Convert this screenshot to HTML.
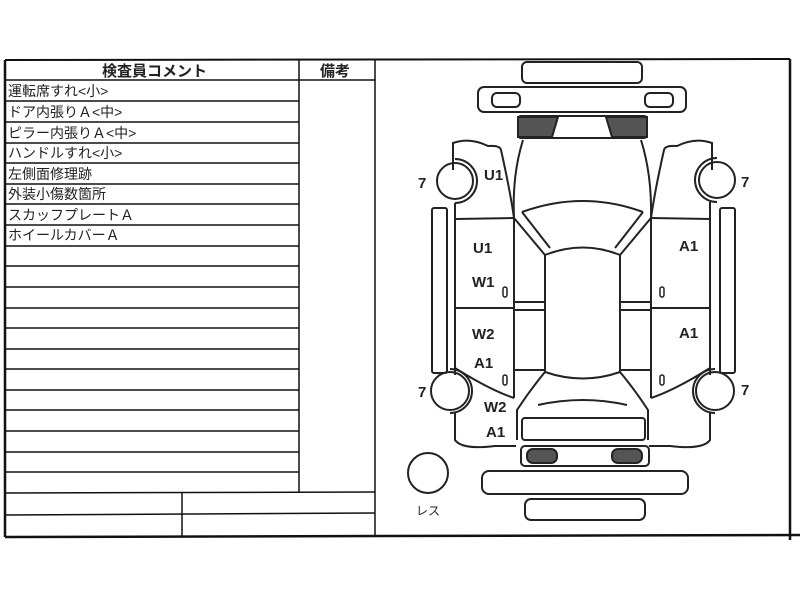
<!DOCTYPE html>
<html><head><meta charset="utf-8"><style>
html,body{margin:0;padding:0;background:#fff;width:800px;height:600px;overflow:hidden}
</style></head><body>
<svg width="800" height="600" viewBox="0 0 800 600" xmlns="http://www.w3.org/2000/svg" style="font-family:'Liberation Sans','Noto Sans CJK JP',sans-serif">
<g stroke="#111" fill="none">
<line x1="5" y1="60" x2="790" y2="59" stroke-width="2"/>
<line x1="5" y1="60" x2="5" y2="537" stroke-width="2.5"/>
<line x1="5" y1="537" x2="800" y2="535" stroke-width="2.5"/>
<line x1="790" y1="59" x2="790" y2="540" stroke-width="2.5"/>
<line x1="375" y1="60" x2="375" y2="536" stroke-width="1.5"/>
<line x1="299" y1="60" x2="299" y2="493" stroke-width="1.5"/>
<line x1="5" y1="80" x2="375" y2="80" stroke-width="1.5"/>
<g stroke-width="1.5">
<line x1="5" y1="101" x2="299" y2="101"/>
<line x1="5" y1="122" x2="299" y2="122"/>
<line x1="5" y1="143" x2="299" y2="143"/>
<line x1="5" y1="163" x2="299" y2="163"/>
<line x1="5" y1="184" x2="299" y2="184"/>
<line x1="5" y1="204" x2="299" y2="204"/>
<line x1="5" y1="225" x2="299" y2="225"/>
<line x1="5" y1="246" x2="299" y2="246"/>
<line x1="5" y1="266" x2="299" y2="266"/>
<line x1="5" y1="287" x2="299" y2="287"/>
<line x1="5" y1="308" x2="299" y2="308"/>
<line x1="5" y1="328" x2="299" y2="328"/>
<line x1="5" y1="349" x2="299" y2="349"/>
<line x1="5" y1="369" x2="299" y2="369"/>
<line x1="5" y1="390" x2="299" y2="390"/>
<line x1="5" y1="410" x2="299" y2="410"/>
<line x1="5" y1="431" x2="299" y2="431"/>
<line x1="5" y1="452" x2="299" y2="452"/>
<line x1="5" y1="472" x2="299" y2="472"/>
<line x1="5" y1="493" x2="375" y2="492"/>
<line x1="5" y1="515" x2="375" y2="513"/>
<line x1="182" y1="493" x2="182" y2="536"/>
</g>
</g>
<g font-size="14" fill="#222">
<text x="102" y="76" font-weight="bold" font-size="15">検査員コメント</text>
<text x="320" y="76" font-weight="bold" font-size="15">備考</text>
<text x="8" y="96">運転席すれ&lt;小&gt;</text>
<text x="8" y="117">ドア内張りＡ&lt;中&gt;</text>
<text x="8" y="138">ピラー内張りＡ&lt;中&gt;</text>
<text x="8" y="158">ハンドルすれ&lt;小&gt;</text>
<text x="8" y="179">左側面修理跡</text>
<text x="8" y="199">外装小傷数箇所</text>
<text x="8" y="220">スカッフプレートＡ</text>
<text x="8" y="240">ホイールカバーＡ</text>
</g>
<g stroke="#222" stroke-width="2" fill="none">
<rect x="522" y="62" width="120" height="21" rx="5"/>
<rect x="478" y="87" width="208" height="25" rx="6"/>
<rect x="492" y="93" width="28" height="14" rx="5"/>
<rect x="645" y="93" width="28" height="14" rx="5"/>
<rect x="518" y="116" width="129" height="22" rx="3"/>
<path d="M518 117 L558 117 L552 137 L518 137 Z" fill="#555"/>
<path d="M606 117 L647 117 L647 137 L612 137 Z" fill="#555"/>
<path d="M523 140 Q512 175 514 218"/>
<path d="M641 140 Q652 175 651 218"/>
<path d="M453 170 L453 143 Q470 137 488 146 Q500 145 501 150 Q510 190 514 218"/>
<path d="M712 170 L712 143 Q695 137 677 146 Q665 145 664 150 Q655 190 651 218"/>
<circle cx="455" cy="181" r="18"/>
<path d="M455 159 A22 22 0 0 1 455 203"/>
<circle cx="717" cy="180" r="18"/>
<path d="M717 158 A22 22 0 0 0 717 202"/>
<line x1="455" y1="203" x2="455" y2="375"/>
<line x1="710" y1="202" x2="710" y2="375"/>
<rect x="432" y="208" width="15" height="165" rx="2"/>
<rect x="720" y="208" width="15" height="165" rx="2"/>
<line x1="455" y1="219" x2="514" y2="218"/>
<line x1="651" y1="218" x2="710" y2="219"/>
<line x1="514" y1="218" x2="514" y2="398"/>
<line x1="651" y1="218" x2="651" y2="398"/>
<line x1="455" y1="308" x2="514" y2="308"/>
<line x1="651" y1="308" x2="710" y2="308"/>
<path d="M514 218 L545 255 M522 212 L550 248"/>
<path d="M651 218 L620 255 M643 212 L615 248"/>
<path d="M522 212 Q583 190 643 212"/>
<path d="M545 255 Q583 240 620 255"/>
<line x1="545" y1="255" x2="545" y2="372"/>
<line x1="620" y1="255" x2="620" y2="372"/>
<path d="M514 302 L545 302 M514 310 L545 310 M620 302 L651 302 M620 310 L651 310"/>
<path d="M514 370 L545 370 M620 370 L651 370"/>
<path d="M545 372 Q583 385 620 372"/>
<path d="M455 368 Q490 390 514 398"/>
<path d="M710 368 Q675 390 651 398"/>
<path d="M545 372 Q530 390 517 410 L517 440"/>
<path d="M620 372 Q635 390 648 410 L648 440"/>
<path d="M538 405 Q583 395 627 405"/>
<rect x="522" y="418" width="123" height="22" rx="3"/>
<circle cx="450" cy="391" r="19"/>
<path d="M450 369 A22 22 0 0 1 450 413"/>
<circle cx="715" cy="391" r="19"/>
<path d="M715 369 A22 22 0 0 0 715 413"/>
<path d="M455 413 Q455 430 455 440 Q462 450 495 446 L516 446"/>
<path d="M710 413 Q710 430 710 440 Q703 450 670 446 L649 446"/>
<rect x="521" y="446" width="128" height="20" rx="4"/>
<rect x="527" y="449" width="30" height="14" rx="6" fill="#555"/>
<rect x="612" y="449" width="30" height="14" rx="6" fill="#555"/>
<rect x="482" y="471" width="206" height="23" rx="7"/>
<rect x="525" y="499" width="120" height="21" rx="6"/>
<circle cx="428" cy="473" r="20"/>
</g>
<g font-size="15" font-weight="bold" fill="#222">
<text x="418" y="188">7</text>
<text x="741" y="187">7</text>
<text x="418" y="397">7</text>
<text x="741" y="395">7</text>
<text x="484" y="180">U1</text>
<text x="473" y="253">U1</text>
<text x="472" y="287">W1</text>
<text x="472" y="339">W2</text>
<text x="474" y="368">A1</text>
<text x="484" y="412">W2</text>
<text x="486" y="437">A1</text>
<text x="679" y="251">A1</text>
<text x="679" y="338">A1</text>
</g>
<g stroke="#222" stroke-width="1.5" fill="none">
<rect x="503" y="287" width="4" height="10" rx="2"/>
<rect x="503" y="375" width="4" height="10" rx="2"/>
<rect x="660" y="287" width="4" height="10" rx="2"/>
<rect x="660" y="375" width="4" height="10" rx="2"/>
</g>
<text x="416" y="515" font-size="12" fill="#222">レス</text>
</svg>
</body></html>
